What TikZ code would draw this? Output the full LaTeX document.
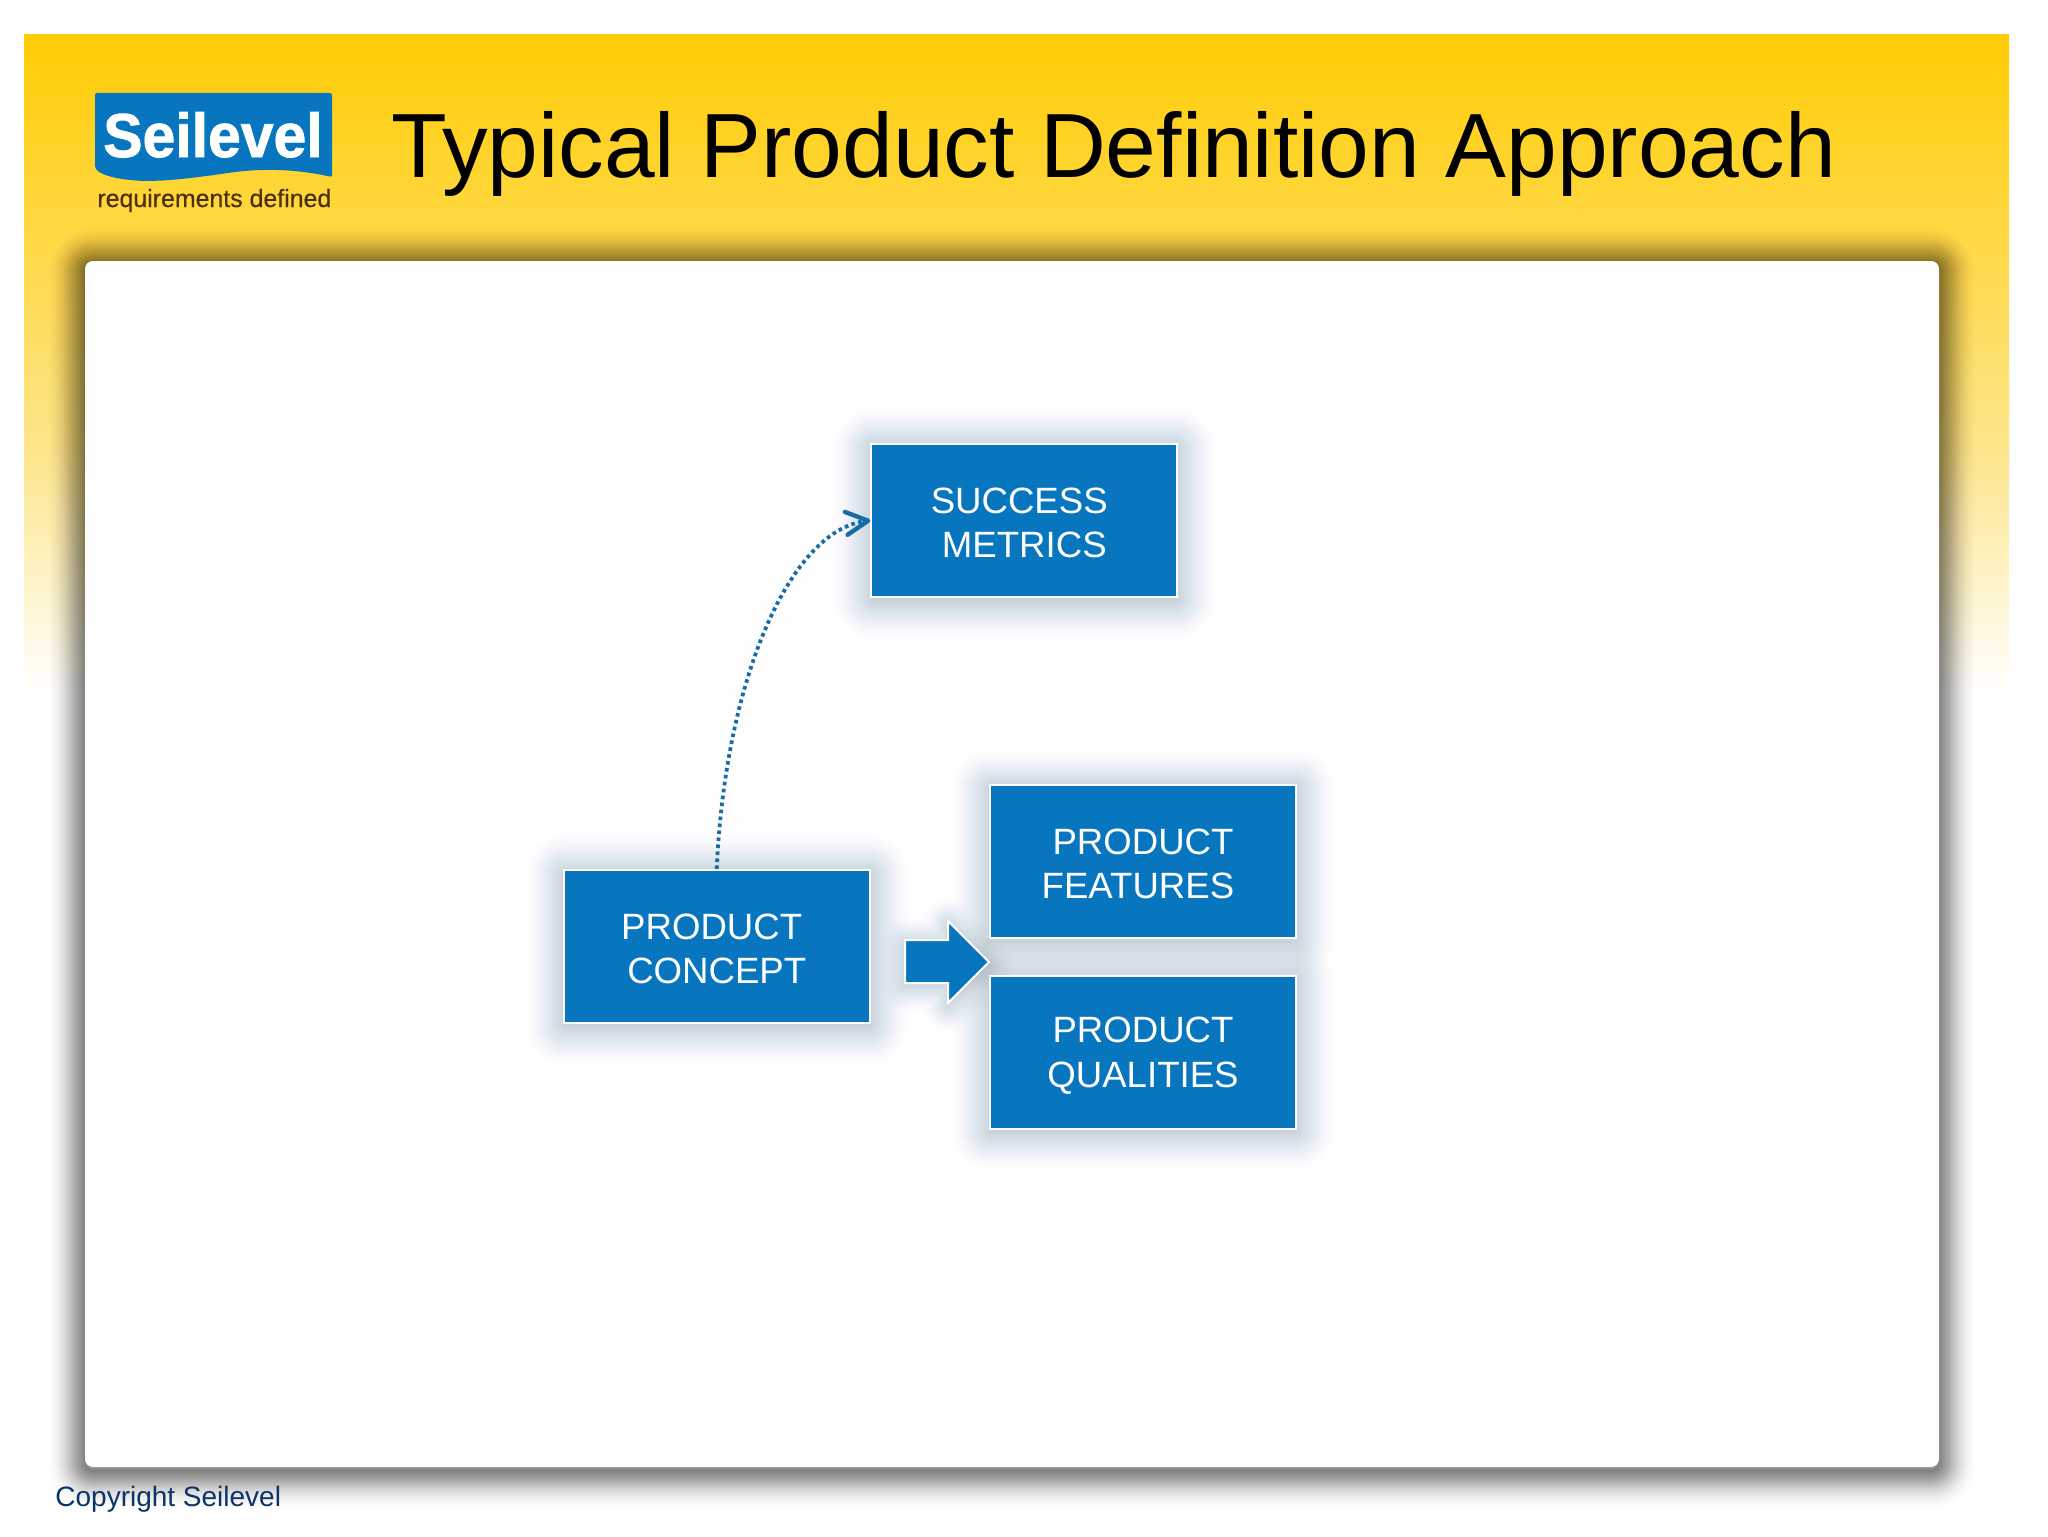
\documentclass[tikz,border=0pt]{standalone}
\usepackage{fontspec}
\usepackage{graphicx}
\setmainfont{Liberation Sans}
\newfontfamily\logofont[FakeBold=1.4]{Liberation Sans Bold}
\newfontfamily\tagfont[FakeBold=0.3]{Liberation Sans}
\usetikzlibrary{arrows.meta}
\definecolor{boxblue}{HTML}{0776BF}
\definecolor{arrowblue}{HTML}{176CA6}
\definecolor{glowblue}{HTML}{8A9CBC}
\definecolor{copyblue}{HTML}{0B3468}
\definecolor{tagbrown}{HTML}{4A300C}
\definecolor{panelwhite}{HTML}{FEFEFF}
\definecolor{ya}{HTML}{FFCC05}
\definecolor{yb}{HTML}{FFDA4C}
\definecolor{yc}{HTML}{FDE68F}
\definecolor{yd}{HTML}{FEF6D2}
% #1 colour, #2 largest half width in px, #3 steps, #4 opacity, #5 path
\newcommand{\softglow}[5]{%
  \foreach \s in {1,...,#3}{%
    \pgfmathsetmacro{\w}{#2*(1-sqrt(1-\s/(#3+1)))}%
    \draw[#1,line width=\w pt,opacity=#4,line join=round] #5;
  }%
}
\newcommand{\firstline}{\rule{0pt}{16.3pt}}
\newcommand{\lastline}{\rule[-1.2pt]{0pt}{1.2pt}}
\tikzset{
  blockbox/.style={draw=white,line width=1pt,fill=boxblue,text=white,inner sep=0pt,
    minimum width=153pt,minimum height=76.5pt,align=center,
    font=\fontsize{18.3}{22.2}\selectfont},
  dotlink/.style={arrowblue,line width=1.9pt,dash pattern=on 1.8pt off 1.7pt,
    -{Straight Barb[length=11pt,width=11.5pt,line width=2.2pt,round]}},
  blockarrow/.style={fill=boxblue,draw=white,line width=1pt,miter limit=10},
}
\begin{document}
\begin{tikzpicture}[x=0.5pt,y=-0.5pt]
\useasboundingbox (0,0) rectangle (2048,1536);
\fill[white] (0,0) rectangle (2048,1536);
% yellow band
\shade[top color=ya,bottom color=yb] (24,35) rectangle (2009,262);
\shade[top color=yb,bottom color=yc] (24,261) rectangle (2009,460);
\shade[top color=yc,bottom color=yd] (24,459) rectangle (2009,600);
\shade[top color=yd,bottom color=white] (24,599) rectangle (2009,692);
% panel shadow and panel
\softglow{black}{42}{48}{0.013}{[rounded corners=4pt] (85,264) rectangle (1939,1471)}
\fill[panelwhite,rounded corners=4pt] (85,261) rectangle (1939,1467);
% logo
\fill[boxblue,rounded corners=1pt] (95,93) -- (332,93) -- (332,177)
  .. controls (300,170) and (270,168) .. (235,172)
  .. controls (200,177) and (160,183) .. (130,180)
  .. controls (112,178) and (100,174) .. (95,168) -- cycle;
\node[anchor=base,inner sep=0pt,text=white,font=\fontsize{31}{31}\selectfont\logofont] (logoname) at (213,157) {\scalebox{.95}[1]{Seilevel}};
\node[anchor=base west,inner sep=0pt,text=tagbrown,font=\fontsize{12.45}{13}\selectfont\tagfont] (logotag) at (97,207) {requirements defined};
% title
\node[anchor=base west,inner sep=0pt,text=black,font=\fontsize{45.6}{46}\selectfont] (title) at (391,177) {Typical Product Definition Approach};
% glows
\softglow{glowblue}{44}{36}{0.012}{(872,447) rectangle (1177,600)}
\softglow{glowblue}{44}{36}{0.012}{(564,873) rectangle (870,1026)}
\softglow{glowblue}{44}{36}{0.012}{(990,788) rectangle (1296,941)}
\softglow{glowblue}{44}{36}{0.012}{(990,979) rectangle (1296,1131)}
\softglow{glowblue}{30}{30}{0.012}{(905,943) -- (948,943) -- (948,924) -- (989,965) -- (948,1006) -- (948,986) -- (905,986) -- cycle}
% boxes
\node[blockbox] (success) at (1024.3,520.5) {\firstline SUCCESS\hspace*{0.278em}\\METRICS\lastline};
\node[blockbox] (concept) at (716.75,946.5) {\firstline PRODUCT\hspace*{0.278em}\\CONCEPT\lastline};
\node[blockbox] (features) at (1143,861.5) {\firstline PRODUCT\\FEATURES\hspace*{0.278em}\lastline};
\node[blockbox] (qualities) at (1143,1052) {\firstline PRODUCT\\QUALITIES\lastline};
% arrows
\path[blockarrow] (905,940) -- (948,940) -- (948,921) -- (989,962) -- (948,1003) -- (948,983) -- (905,983) -- cycle;
\draw[dotlink] (concept.north) .. controls (725,680) and (790,530) .. (success.west);
% footer
\node[anchor=base west,inner sep=0pt,text=copyblue,font=\fontsize{14}{14}\selectfont] (copy) at (55,1506) {Copyright Seilevel};
\end{tikzpicture}
\end{document}
